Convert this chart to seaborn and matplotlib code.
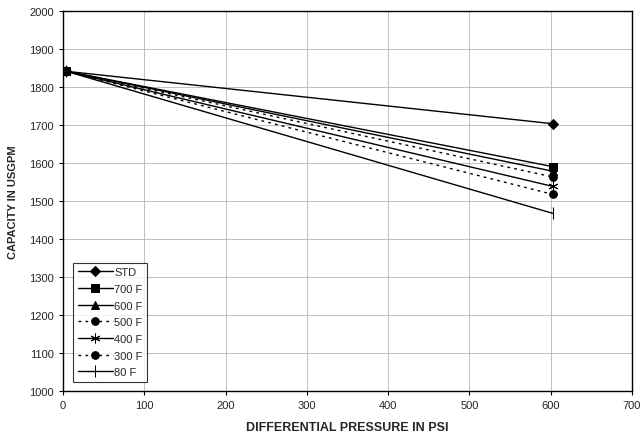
import pandas as pd
import matplotlib
matplotlib.use("Agg")
import matplotlib.pyplot as plt
import seaborn as sns

# datos
presion = [4, 603]
series = ["STD", "700 F", "600 F", "500 F", "400 F", "300 F", "80 F"]
capacidad = {
    "STD":   [1841, 1703],
    "700 F": [1841, 1590],
    "600 F": [1841, 1578],
    "500 F": [1841, 1563],
    "400 F": [1841, 1538],
    "300 F": [1841, 1517],
    "80 F":  [1841, 1467],
}
marcadores = {"STD": "D", "700 F": "s", "600 F": "^", "500 F": "o",
              "400 F": (6, 2, 0), "300 F": "o", "80 F": "|"}
estilos = {"STD": "-", "700 F": "-", "600 F": "-", "500 F": (0, (2, 3)),
           "400 F": "-", "300 F": (0, (2, 3)), "80 F": "-"}
tamanos = {"STD": 5, "700 F": 5.5, "600 F": 5.5, "500 F": 5.5, "400 F": 7, "300 F": 5.5, "80 F": 9}

sns.set_style("white")
plt.rcParams['font.family'] = ['Liberation Sans', 'DejaVu Sans']

fig = plt.figure(figsize=(6.43, 4.39), dpi=100)
ax = fig.add_axes([0.098, 0.107, 0.885, 0.866])

for s in series:
    sns.lineplot(x=presion, y=capacidad[s], ax=ax, color="black", linewidth=1.0,
                 marker=marcadores[s], markersize=tamanos[s], markeredgecolor="black",
                 markerfacecolor="black", linestyle=estilos[s], label=s)

ax.set_xlim(0, 700)
ax.set_ylim(1000, 2000)
ax.set_xticks(range(0, 701, 100))
ax.set_yticks(range(1000, 2001, 100))
ax.grid(True, color="#b5b5b5", linewidth=0.6)
for sp in ax.spines.values():
    sp.set_color("black")
    sp.set_linewidth(1.0)
ax.tick_params(axis="both", labelsize=8, direction="out", length=3, width=0.8,
               color="black", bottom=True, left=True)
ax.set_xlabel("DIFFERENTIAL PRESSURE IN PSI", fontsize=9, fontweight="bold", labelpad=8)
ax.set_ylabel("CAPACITY IN USGPM", fontsize=8, fontweight="bold", labelpad=8)

leg = ax.legend(loc="lower left", fontsize=8, frameon=True, fancybox=False,
                edgecolor="black", handlelength=3.2, borderpad=0.4, labelspacing=0.6,
                handletextpad=0.1, bbox_to_anchor=(0.008, 0.01))
leg.get_frame().set_linewidth(0.8)

fig.savefig("out.png", dpi=100)
plt.close()
